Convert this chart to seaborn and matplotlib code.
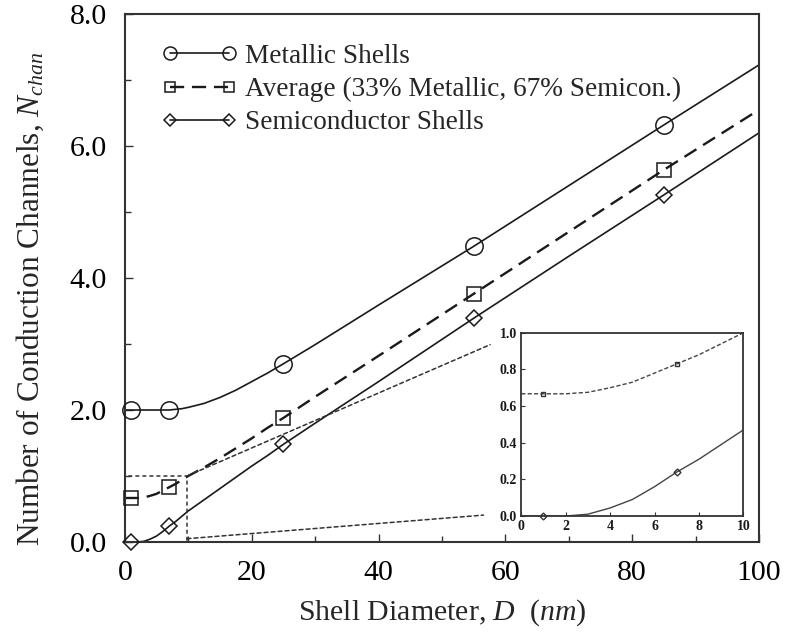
import matplotlib
matplotlib.use("Agg")
import matplotlib.pyplot as plt
from matplotlib.lines import Line2D
from matplotlib.patches import Rectangle, ConnectionPatch
from matplotlib.ticker import MultipleLocator, FormatStrFormatter
import seaborn as sns
import pandas as pd

# ---- data ----
D_curve = [0, 1, 2, 3, 4, 5, 6, 7, 8, 9, 10, 12.5, 15, 17.5, 20, 22.5, 25, 30, 40, 55, 70, 85, 100]
metallic_curve = [2.0, 2.0, 2.0, 2.0, 2.0, 2.0, 2.0, 2.0, 2.01, 2.02, 2.04, 2.10, 2.19, 2.30, 2.43,
                  2.56, 2.70, 2.99, 3.59, 4.48, 5.40, 6.32, 7.23]
average_curve = [0.667, 0.667, 0.667, 0.675, 0.70, 0.73, 0.78, 0.83, 0.88, 0.94, 1.00, 1.13, 1.27,
                 1.42, 1.57, 1.73, 1.88, 2.20, 2.82, 3.76, 4.70, 5.64, 6.55]
semi_curve = [0.0, 0.0, 0.0, 0.01, 0.044, 0.09, 0.16, 0.24, 0.31, 0.39, 0.47, 0.64, 0.81, 0.98,
              1.15, 1.31, 1.48, 1.80, 2.43, 3.39, 4.33, 5.26, 6.20]

D_pts = [1, 7, 25, 55, 85]
metallic_pts = [2.0, 2.0, 2.70, 4.48, 6.32]
average_pts = [0.667, 0.83, 1.88, 3.76, 5.64]
semi_pts = [0.0, 0.24, 1.48, 3.39, 5.26]

labels = ["Metallic Shells", "Average (33% Metallic, 67% Semicon.)", "Semiconductor Shells"]
x_ticks = [0, 20, 40, 60, 80, 100]
y_ticks = [0.0, 2.0, 4.0, 6.0, 8.0]

curves = pd.DataFrame({"D": D_curve, "metallic": metallic_curve,
                       "average": average_curve, "semi": semi_curve})
points = pd.DataFrame({"D": D_pts, "metallic": metallic_pts,
                       "average": average_pts, "semi": semi_pts})

# ---- style ----
sns.set_theme(style="ticks")
plt.rcParams["font.family"] = ["Liberation Serif", "DejaVu Serif"]
plt.rcParams["mathtext.fontset"] = "custom"
plt.rcParams["mathtext.rm"] = "Liberation Serif"
plt.rcParams["mathtext.it"] = "Liberation Serif:italic"
plt.rcParams["axes.edgecolor"] = "#333333"

INK = "#1a1a1a"
series = [
    ("metallic", "-", "o", 12.5, 1.2),
    ("average", (0, (6, 3.3)), "s", 10, 1.7),
    ("semi", "-", "D", 8.5, 1.2),
]

fig = plt.figure(figsize=(7.85, 6.32), dpi=100)
ax = fig.add_axes([0.159, 0.1424, 0.808, 0.8354])

for key, ls, mk, ms, lw in series:
    sns.lineplot(data=curves, x="D", y=key, ax=ax, color=INK, linestyle=ls, linewidth=lw,
                 estimator=None, sort=False, legend=False)
    ax.plot(points["D"], points[key], linestyle="none", marker=mk, markersize=ms,
            markerfacecolor="none", markeredgecolor=INK, markeredgewidth=1.1, clip_on=False, zorder=4)

ax.set_xlim(0, 100)
ax.set_ylim(0, 8)
ax.set_xticks(x_ticks)
ax.set_yticks(y_ticks)
ax.xaxis.set_minor_locator(MultipleLocator(10))
ax.yaxis.set_minor_locator(MultipleLocator(1))
ax.yaxis.set_major_formatter(FormatStrFormatter("%.1f"))
ax.tick_params(which="both", direction="in", top=False, right=False, colors="#333333",
               labelcolor="black", labelsize=21.5, width=1.0)
ax.tick_params(which="major", length=6, pad=13)
ax.tick_params(which="minor", length=4)
for sp in ax.spines.values():
    sp.set_linewidth(1.5)

ax.set_xlabel(r"Shell Diameter, $D$  $\mathit{(nm)}$", fontsize=21.5, labelpad=8)
ax.set_ylabel(r"Number of Conduction Channels, $N_{chan}$", fontsize=22.5)
ax.yaxis.set_label_coords(-0.125, 0.46)

handles = []
for (key, ls, mk, ms, lw), lab in zip(series, labels):
    handles.append(Line2D([0], [0], color=INK, linestyle=ls, linewidth=lw, marker=mk,
                          markersize=ms * 0.75, markerfacecolor="none", markeredgecolor=INK,
                          markeredgewidth=1.1, label=lab))
ax.legend(handles=handles, loc="upper left", bbox_to_anchor=(0.02, 0.99), frameon=False,
          numpoints=2, handlelength=2.75, handletextpad=0.3, labelspacing=0.3, fontsize=19.6)

# zoom rectangle
ax.add_patch(Rectangle((0, 0), 9.8, 1.0, fill=False, edgecolor="#333333", linewidth=1.1,
                       linestyle=(0, (2.6, 2)), zorder=3, clip_on=False))

# ---- inset ----
axin = fig.add_axes([0.664, 0.1835, 0.283, 0.29])
inset_series = [("average", (0, (3, 1.6)), "s"), ("semi", "-", "D")]
for key, ls, mk in inset_series:
    sns.lineplot(data=curves, x="D", y=key, ax=axin, color="#444444", linestyle=ls, linewidth=1.0,
                 estimator=None, sort=False, legend=False)
    axin.plot(points["D"], points[key], linestyle="none", marker=mk, markersize=3.5,
              markerfacecolor="none", markeredgecolor="#333333", markeredgewidth=1.0,
              clip_on=False, zorder=4)
axin.set_xlim(0, 10)
axin.set_ylim(0, 1.0)
axin.set_xticks([0, 2, 4, 6, 8, 10])
axin.set_yticks([0.0, 0.2, 0.4, 0.6, 0.8, 1.0])
axin.yaxis.set_major_formatter(FormatStrFormatter("%.1f"))
axin.set_xlabel("")
axin.set_ylabel("")
axin.tick_params(direction="in", length=3, width=0.8, labelsize=10, pad=3, colors="#333333",
                 labelcolor="#1a1a1a")
for lab in axin.get_xticklabels() + axin.get_yticklabels():
    lab.set_fontweight("bold")
for sp in axin.spines.values():
    sp.set_linewidth(1.3)

# connector lines
for xyA, xyB in [((9.8, 1.0), (-0.14, 0.935)), ((9.8, 0.05), (-0.17, 0.005))]:
    con = ConnectionPatch(xyA=xyA, coordsA=ax.transData, xyB=xyB, coordsB=axin.transAxes,
                          color="#333333", linewidth=1.1, linestyle=(0, (2.6, 2)))
    fig.add_artist(con)

fig.savefig("out.png", dpi=100)
